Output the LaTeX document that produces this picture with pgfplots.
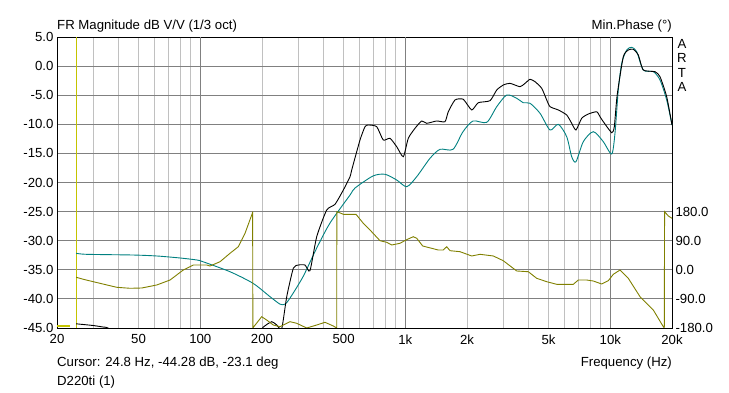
\documentclass[border=0pt]{standalone}
\usepackage{fontspec}
\setmainfont{Liberation Sans}
\usepackage{pgfplots}
\pgfplotsset{compat=1.18}
\definecolor{tealc}{HTML}{008080}
\definecolor{olivec}{HTML}{808000}
\definecolor{cursorc}{HTML}{C4C400}
\definecolor{gdark}{HTML}{808080}
\definecolor{glight}{HTML}{C0C0C0}
\begin{document}
\begin{tikzpicture}[font=\fontsize{13.2}{15}\selectfont]
\path[use as bounding box] (-57pt,-65pt) rectangle (672pt,328pt);
\begin{axis}[
  at={(0pt,0pt)}, anchor=south west,
  scale only axis, width=615pt, height=291pt,
  xmode=log, xmin=20, xmax=20000, ymin=-45, ymax=5,
  log basis x=10,
  xtick={20,30,40,50,60,70,80,90,200,300,400,500,600,700,800,900,2000,3000,4000,5000,6000,7000,8000,9000,20000},
  xticklabels={20,,,50,,,,,200,,,500,,,,,2k,,,5k,,,,,20k},
  extra x ticks={100,1000,10000},
  extra x tick labels={100,1k,10k},
  extra x tick style={major grid style={gdark, line width=0.9pt}},
  xmajorgrids, major grid style={glight, line width=0.9pt},
  ytick={-45,-40,-35,-30,-25,-20,-15,-10,-5,0,5},
  yticklabels={-45.0,-40.0,-35.0,-30.0,-25.0,-20.0,-15.0,-10.0,-5.0,0.0,5.0},
  ymajorgrids, y grid style={gdark, line width=0.9pt},
  major tick length=0pt, minor tick length=0pt,
  axis line style={black, line width=0.9pt},
  xticklabel style={yshift=-3pt},
  every axis plot/.append style={line width=0.9pt},
]
\addplot[cursorc, line width=1pt] coordinates {(24.8,-45) (24.8,5)};
\addplot[cursorc, line width=2.5pt] coordinates {(20.1,-44.66) (23.1,-44.66)};
\addplot[tealc, smooth, tension=0.45] coordinates {
(24.8,-32.16) (27.9,-32.34) (47.0,-32.46) (61.5,-32.63) (79.6,-32.97) (96.4,-33.32)
(103,-33.61) (139.6,-35.33) (180.8,-37.32) (218.8,-39.62) (244.8,-40.9) (259,-40.9)
(274,-39.85) (317,-36.19) (369.8,-31.26) (429.4,-26.96) (537.6,-22.15) (568.6,-20.95)
(695.8,-18.88) (796,-18.59) (908,-19.57) (1016,-20.72) (1137,-19.0) (1320,-15.84)
(1477,-14.30) (1709,-14.30) (1912,-11.27) (2140,-9.43) (2496,-9.66) (2792,-6.98)
(3124,-4.97) (3496,-5.53) (3765,-6.29) (4060,-6.39) (4542,-8.11) (5082,-10.98)
(5578,-10.0) (6128,-12.13) (6482,-15.57) (6802,-16.43) (7384,-12.99) (8262,-11.27)
(9244,-12.99) (10160,-15.1) (10544,-11.49) (10940,-4.1) (11366,0.48) (12024,2.77)
(12720,3.23) (13454,2.47) (14488,-0.67) (16212,-0.96) (17480,-2.39) (18842,-5.82)
(20000,-10.12)};
\addplot[black, smooth, tension=0.35] coordinates {
(24.8,-44.28) (29.96,-44.57) (33.5,-44.83) (35.5,-45.0) (40,-46.5) (60,-50) (150,-50)
(190,-46) (203,-44.83) (223,-43.92) (235.8,-44.48) (249.6,-45.1) (264,-39.62)
(284.3,-34.74) (300.8,-34.18) (324.2,-34.18) (342.8,-35.15) (369.8,-29.31) (413.6,-24.73)
(454,-23.75) (498.6,-21.29) (537.6,-19.0) (547.8,-17.85) (601.2,-12.70) (636,-10.41)
(660,-10.12) (725.4,-10.41) (781,-12.70) (842,-12.41) (908,-13.85) (978,-15.57)
(1034,-12.41) (1115,-10.69) (1202,-9.43) (1272,-9.83) (1423,-9.43) (1562,-9.55)
(1621,-7.84) (1748,-5.82) (1918,-5.70) (2108,-7.54) (2270,-6.29) (2590,-5.94)
(2792,-4.11) (3006,-3.25) (3242,-2.96) (3628,-3.54) (3838,-2.96) (4060,-2.27)
(4294,-2.68) (4628,-3.81) (4896,-5.82) (5082,-6.98) (5578,-7.54) (6128,-8.40)
(6482,-9.83) (6802,-10.98) (7254,-8.97) (7812,-8.23) (8584,-7.84) (8908,-8.69)
(9244,-9.55) (10160,-11.44) (10460,-10.41) (10800,-5.0) (11574,1.62) (12242,2.77)
(12948,2.89) (13696,1.91) (14488,-0.67) (16520,-0.96) (17480,-1.82) (18842,-5.25)
(20000,-10.12)};
\end{axis}
\begin{axis}[
  at={(0pt,0pt)}, anchor=south west,
  scale only axis, width=615pt, height=291pt,
  xmode=log, xmin=20, xmax=20000, ymin=-180, ymax=720,
  axis x line=none, axis y line*=right,
  y axis line style={draw=none},
  ytick={-180,-90,0,90,180},
  yticklabels={-180.0,-90.0,0.0,90.0,180.0},
  major tick length=0pt, minor tick length=0pt,
]
\addplot[olivec, line width=0.9pt] coordinates {
(24.8,-23.1) (26.9,-29.4) (32.4,-41.8) (39.1,-54.1) (45.4,-57.2) (51.8,-56.3)
(61.3,-47.0) (71.2,-31.6) (82.6,-0.6) (92.5,14.8) (107.5,14.8) (111.5,11.7)
(124.8,25.0) (139.6,51.0) (153.3,71.4) (165.3,112.9) (179.4,174.7) (180,180)
(180.5,-180) (181.4,-178) (199.3,-145.1) (210.8,-155.3) (227,-170.7) (244.8,-176.0)
(274,-160.5) (295.4,-165.5) (330.4,-180) (369.8,-170.7) (405.8,-162.4) (445.4,-173.8)
(462.8,-180) (463.5,180) (499,171.6) (574.9,171.6) (624,143.8) (672.8,123.1)
(752.6,90.0) (811.6,85.0) (858.6,76.7) (942.4,82.0) (1008,92.2) (1094,102.4)
(1137,97.4) (1216,73.6) (1449,61.2) (1532,61.2) (1592,71.4) (1653,59.1) (1849,56.0)
(2108,42.7) (2315,47.9) (2688,42.7) (3006,28.1) (3496,-3.7) (3981,-5.9) (4375,-26.3)
(4896,-36.8) (5479,-44.9) (6601,-44.9) (6982,-31.6) (7672,-31.6) (8262,-34.7)
(9082,-43.9) (9780,-33.7) (10346,-13.9) (11154,-0.6) (12242,-26.3) (13964,-83.2)
(16212,-124.4) (18140,-176) (18340,-180) (18400,180) (19190,166.4) (20000,159.3)};
\end{axis}
\node[anchor=base west, inner sep=0pt] at (0pt,298pt) {FR Magnitude dB V/V (1/3 oct)};
\node[anchor=base east, inner sep=0pt] at (615pt,298pt) {Min.Phase (°)};
\node[anchor=north, inner sep=0pt, align=center, font=\fontsize{13.2}{14.5}\selectfont] at (625pt,289pt) {A\\R\\T\\A};
\node[anchor=base west, inner sep=0pt] at (0pt,-39pt) {Cursor: 24.8 Hz, -44.28 dB, -23.1 deg};
\node[anchor=base east, inner sep=0pt] at (615pt,-39pt) {Frequency (Hz)};
\node[anchor=base west, inner sep=0pt] at (0pt,-58pt) {D220ti (1)};
\end{tikzpicture}
\end{document}
